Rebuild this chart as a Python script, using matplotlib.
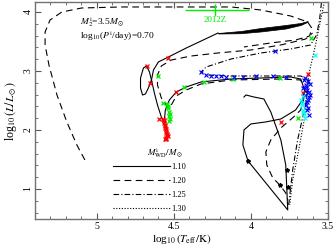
import matplotlib.pyplot as plt
import numpy as np

plt.rcParams['font.family'] = ['Liberation Serif', 'DejaVu Serif']
plt.rcParams['mathtext.fontset'] = 'stix'

# tracks: log10 Teff, log10 L
# M_WD = 1.10 (solid)
s_up_t = [4.645, 4.632, 4.600, 4.535, 4.419, 4.323, 4.213]
s_up_l = [2.847, 3.017, 3.153, 3.237, 3.390, 3.508, 3.644]
band_t = [4.213, 4.065, 3.935, 3.774, 3.677, 3.632]
band_top = [3.644, 3.678, 3.729, 3.780, 3.814, 3.847]
band_bot = [3.635, 3.640, 3.670, 3.720, 3.780, 3.835]
loop_t = [4.645, 4.658, 4.677, 4.697, 4.716, 4.716, 4.703, 4.684, 4.665, 4.645,
          4.626, 4.606, 4.581, 4.561]
loop_l = [2.847, 2.983, 3.085, 3.051, 2.881, 2.712, 2.593, 2.610, 2.712, 2.847,
          2.627, 2.424, 2.220, 2.085]
s_low_t = [4.561, 4.555, 4.529, 4.484, 4.419, 4.323, 4.129, 3.935, 3.742, 3.677,
           3.652, 3.665, 3.710, 3.806, 3.903, 4.000, 4.045, 4.052, 4.019, 3.761,
           3.774, 3.806, 3.871, 3.916, 3.981, 4.032, 4.045]
s_low_l = [2.169, 2.339, 2.508, 2.644, 2.729, 2.814, 2.864, 2.881, 2.898, 2.864,
           2.678, 2.508, 2.339, 2.186, 2.136, 2.102, 2.000, 1.746, 1.475, 0.644,
           1.407, 1.831, 2.305, 2.525, 2.559, 2.593, 2.559]

# M_WD = 1.20 (dashed)
d1_t = [5.077, 5.129, 5.194, 5.258, 5.310, 5.335, 5.335, 5.303, 5.226, 5.097,
        4.839, 4.452, 4.129, 3.935, 3.742, 3.632, 3.606, 3.619, 3.710, 3.871, 4.045]
d1_l = [1.492, 1.746, 2.136, 2.593, 3.102, 3.441, 3.661, 3.864, 4.000, 4.068,
        4.085, 4.085, 4.085, 4.034, 3.932, 3.831, 3.729, 3.593, 3.525, 3.475, 3.407]
d2_t = [4.535, 4.581, 4.606, 4.606, 4.581, 4.516, 4.387, 4.213, 4.000, 3.806,
        3.645, 3.600]
d2_l = [2.373, 2.542, 2.763, 2.932, 3.085, 3.186, 3.254, 3.305, 3.356, 3.441,
        3.542, 3.644]
d3_t = [4.516, 4.484, 4.419, 4.323, 4.129, 3.806, 3.677, 3.645, 3.677, 3.723,
        3.806, 3.871, 3.903, 3.897, 3.858, 3.813, 3.774, 3.761]
d3_l = [2.424, 2.576, 2.678, 2.780, 2.847, 2.864, 2.847, 2.644, 2.339, 2.220,
        2.034, 1.831, 1.627, 1.407, 1.186, 1.068, 0.932, 0.814]

# M_WD = 1.25 (dash-dot)
dd_t = [3.755, 3.729, 3.697, 3.665, 3.639, 3.626, 3.677, 3.871, 4.129, 4.290,
        4.323, 4.290, 4.129, 3.935, 3.742, 3.613, 3.574, 3.555, 3.542]
dd_l = [0.729, 1.322, 1.831, 2.203, 2.508, 2.847, 2.915, 2.915, 2.915, 2.932,
        2.983, 3.068, 3.203, 3.305, 3.373, 3.441, 3.610, 3.864, 4.17]

# M_WD = 1.30 (dotted)
dt_t = [3.523, 3.548, 3.574, 3.600, 3.626, 3.639, 3.652, 3.690, 3.729, 3.748]
dt_l = [4.17, 3.864, 3.525, 3.220, 2.932, 2.593, 2.203, 1.661, 1.153, 0.729]

# markers
red_t = [4.568, 4.561, 4.561, 4.555, 4.555, 4.548, 4.548, 4.542, 4.548, 4.555,
         4.564, 4.558, 4.552, 4.545, 4.540, 4.551,
         4.677, 4.652, 4.535, 4.484, 4.594, 3.632, 3.665, 3.806]
red_l = [2.190, 2.150, 2.110, 2.070, 2.030, 1.990, 1.950, 1.910, 1.870, 1.840,
         2.170, 2.090, 2.010, 1.930, 1.890, 1.850,
         3.085, 2.797, 3.220, 2.644, 2.186, 2.949, 2.627, 2.136]
green_t = [4.542, 4.535, 4.529, 4.529, 4.523, 4.529, 4.538, 4.526,
           4.600, 4.568, 4.432, 4.303, 4.116, 3.813, 3.613, 3.697]
green_l = [2.441, 2.373, 2.305, 2.237, 2.186, 2.153, 2.407, 2.271,
           2.915, 2.458, 2.729, 2.814, 2.864, 2.881, 3.559, 2.203]
blue_t = [4.323, 4.290, 4.258, 4.226, 4.194, 4.161, 4.110, 4.052, 3.968, 3.858,
          3.774, 3.845, 3.658, 3.645, 3.639, 3.652, 3.632, 3.645, 3.639, 3.626,
          3.665, 3.626, 3.619, 3.652, 3.632, 3.645, 3.626, 3.639, 3.619, 3.632]
blue_l = [2.983, 2.932, 2.915, 2.915, 2.915, 2.898, 2.898, 2.898, 2.915, 2.915,
          2.898, 3.339, 2.847, 2.763, 2.678, 2.593, 2.508, 2.424, 2.339, 2.254,
          2.712, 2.644, 2.780, 2.881, 2.830, 2.720, 2.560, 2.470, 2.600, 2.380]
cyan_t = [3.677, 3.671, 3.665, 3.658, 3.652, 3.665, 3.587, 3.671, 3.660]
cyan_l = [2.508, 2.424, 2.339, 2.271, 2.203, 2.576, 3.271, 2.460, 2.300]
star_t = [4.019, 3.813, 3.768, 3.761]
star_l = [1.475, 1.068, 1.322, 1.034]

# observed source 2012Z
obs_t, obs_l = 4.23, 4.03
obs_terr = [[0.22], [0.20]]
obs_lerr = 0.10

labels = ['1.10', '1.20', '1.25', '1.30']
lw = 0.8
dash = (0, (6, 4))
dashdot = (0, (5, 2, 1, 2))
dots = (0, (1, 1.5))

fig = plt.figure(figsize=(3.34, 2.45), dpi=100)
ax = fig.add_axes([0.105, 0.106, 0.877, 0.886])

# solid
h1, = ax.plot(s_up_t, s_up_l, 'k-', lw=lw)
ax.fill_between(band_t, band_bot, band_top, color='k', lw=0.5)
ax.plot(loop_t, loop_l, 'k-', lw=lw)
ax.plot(s_low_t, s_low_l, 'k-', lw=lw)
# dashed
h2, = ax.plot(d1_t, d1_l, 'k', ls=dash, lw=lw)
ax.plot(d2_t, d2_l, 'k', ls=dash, lw=lw)
ax.plot(d3_t, d3_l, 'k', ls=dash, lw=lw)
# dash-dot
h3, = ax.plot(dd_t, dd_l, 'k', ls=dashdot, lw=lw)
# dotted
h4, = ax.plot(dt_t, dt_l, 'k', ls=dots, lw=lw)

ax.plot(red_t, red_l, 'x', color='red', ms=3.5, mew=0.9)
ax.plot(green_t, green_l, 'x', color='#00ee00', ms=3.5, mew=0.9)
ax.plot(blue_t, blue_l, 'x', color='blue', ms=3, mew=0.8)
ax.plot(cyan_t, cyan_l, 'x', color='cyan', ms=3, mew=0.8)
ax.plot(star_t, star_l, '*', color='k', ms=3)

ax.errorbar(obs_t, obs_l, xerr=obs_terr, yerr=obs_lerr, color='#00ee00',
            elinewidth=1, capsize=0, zorder=5, fmt='none')
ax.text(obs_t, 3.93, '2012Z', color='#00ee00', fontsize=6.5, ha='center', va='top')

ax.text(5.11, 3.83, r'$M_2^{\rm i}$=3.5$M_\odot$', fontsize=6.8, va='center')
ax.text(5.11, 3.58, r'log$_{10}$($P^{\rm i}$/day)=0.70', fontsize=6.8, va='center')

leg = ax.legend([h1, h2, h3, h4], labels, loc='upper left',
                bbox_to_anchor=(0.252, 0.276), frameon=False, fontsize=6,
                handlelength=6.8, handletextpad=0.2, labelspacing=0.7,
                borderpad=0)
ax.text(0.505, 0.304, r'$M_{\rm WD}^{\rm i}/M_\odot$', transform=ax.transAxes,
        fontsize=6.5, ha='right', va='center')

ax.set_xlim(5.387, 3.5)
ax.set_ylim(0.49, 4.17)
ax.set_xticks([5, 4.5, 4, 3.5])
ax.set_xticklabels(['5', '4.5', '4', '3.5'])
ax.set_yticks([1, 2, 3, 4])
ax.set_xticks(np.arange(3.5, 5.4, 0.1), minor=True)
ax.set_yticks(np.arange(0.6, 4.2, 0.2), minor=True)
ax.tick_params(which='both', direction='in', top=True, right=True,
               labelsize=7, color='0.35', pad=2)
ax.tick_params(which='major', length=4)
ax.tick_params(which='minor', length=2)
for lab in ax.get_yticklabels():
    lab.set_rotation(90)
    lab.set_va('center')
for sp in ax.spines.values():
    sp.set_color('0.45')
    sp.set_linewidth(1)

ax.set_xlabel(r'log$_{10}\,(T_{\rm eff}/{\rm K})$', fontsize=8, labelpad=1)
ax.set_ylabel(r'log$_{10}\,(L/L_\odot)$', fontsize=8.5, labelpad=3)

fig.savefig('out.png', dpi=100)
